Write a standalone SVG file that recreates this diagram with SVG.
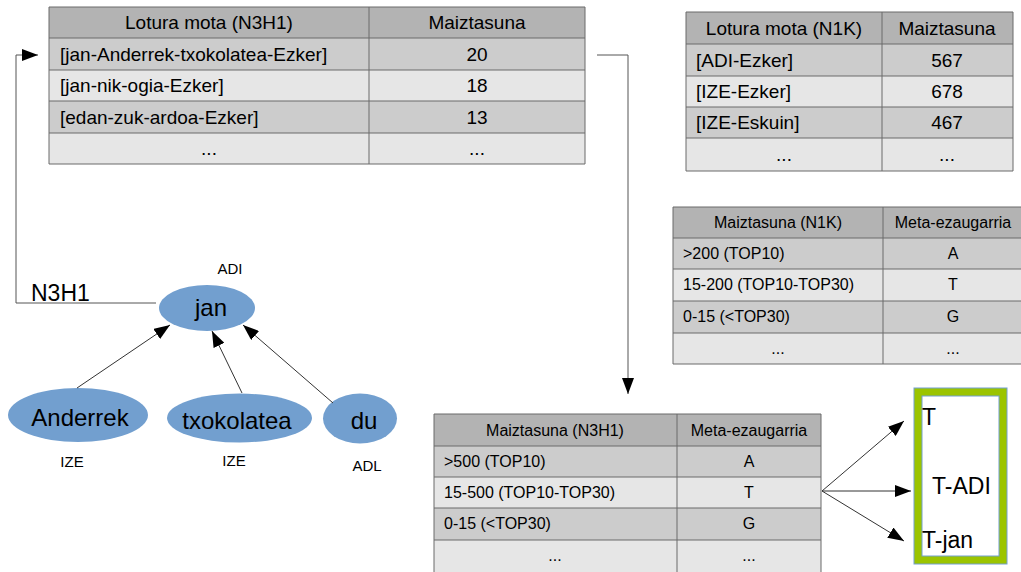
<svg xmlns="http://www.w3.org/2000/svg" width="1021" height="572" viewBox="0 0 1021 572">
  <style>
    text { font-family: "Liberation Sans", Arial, sans-serif; fill: #000; }
    .hd { fill: #b3b3b3; }
    .md { fill: #cccccc; }
    .lt { fill: #e6e6e6; }
    .grid { stroke: #6b6b6b; stroke-width: 1; fill: none; }
    .t19 { font-size: 19px; }
    .t16 { font-size: 16px; }
    .c { text-anchor: middle; }
    .node { fill: #729fcf; }
    .nlab { font-size: 24px; text-anchor: middle; }
    .pos { font-size: 15px; text-anchor: middle; }
    .wire { stroke: #555; stroke-width: 1; fill: none; }
    .edge { stroke: #333; stroke-width: 1; fill: none; }
  </style>
  <defs>
    <marker id="ah" viewBox="0 0 16 12" refX="16" refY="6" markerWidth="16" markerHeight="12" markerUnits="userSpaceOnUse" orient="auto">
      <path d="M0,0 L16,6 L0,12 Z" fill="#000"/>
    </marker>
  </defs>

  <rect width="1021" height="572" fill="#fff"/>

  <!-- table: link types (N3H1) -->
  <g id="table-n3h1">
    <rect class="hd" x="49" y="7" width="536" height="31"/>
    <rect class="md" x="49" y="38" width="536" height="32"/>
    <rect class="lt" x="49" y="70" width="536" height="31"/>
    <rect class="md" x="49" y="101" width="536" height="32"/>
    <rect class="lt" x="49" y="133" width="536" height="31"/>
    <path class="grid" d="M49,7 H585 V164 H49 Z M49,38 H585 M49,70 H585 M49,101 H585 M49,133 H585 M369,7 V164"/>
    <text class="t19 c" x="209" y="29">Lotura mota (N3H1)</text>
    <text class="t19 c" x="477" y="29">Maiztasuna</text>
    <text class="t19" x="60" y="61">[jan-Anderrek-txokolatea-Ezker]</text>
    <text class="t19 c" x="477" y="61">20</text>
    <text class="t19" x="60" y="92">[jan-nik-ogia-Ezker]</text>
    <text class="t19 c" x="477" y="92">18</text>
    <text class="t19" x="60" y="124">[edan-zuk-ardoa-Ezker]</text>
    <text class="t19 c" x="477" y="124">13</text>
    <text class="t19 c" x="209" y="155">...</text>
    <text class="t19 c" x="477" y="155">...</text>
  </g>

  <!-- table: link types (N1K) -->
  <g id="table-n1k">
    <rect class="hd" x="686" y="12" width="327" height="32"/>
    <rect class="md" x="686" y="44" width="327" height="32"/>
    <rect class="lt" x="686" y="76" width="327" height="31"/>
    <rect class="md" x="686" y="107" width="327" height="31"/>
    <rect class="lt" x="686" y="138" width="327" height="33"/>
    <path class="grid" d="M686,12 H1013 V171 H686 Z M686,44 H1013 M686,76 H1013 M686,107 H1013 M686,138 H1013 M882,12 V171"/>
    <text class="t19 c" x="784" y="35">Lotura mota (N1K)</text>
    <text class="t19 c" x="947" y="35">Maiztasuna</text>
    <text class="t19" x="696" y="67">[ADI-Ezker]</text>
    <text class="t19 c" x="947" y="67">567</text>
    <text class="t19" x="696" y="98">[IZE-Ezker]</text>
    <text class="t19 c" x="947" y="98">678</text>
    <text class="t19" x="696" y="129">[IZE-Eskuin]</text>
    <text class="t19 c" x="947" y="129">467</text>
    <text class="t19 c" x="784" y="161">...</text>
    <text class="t19 c" x="947" y="161">...</text>
  </g>

  <!-- table: frequency to meta-feature (N1K) -->
  <g id="table-meta-n1k">
    <rect class="hd" x="673" y="207" width="352" height="31"/>
    <rect class="md" x="673" y="238" width="352" height="31"/>
    <rect class="lt" x="673" y="269" width="352" height="32"/>
    <rect class="md" x="673" y="301" width="352" height="32"/>
    <rect class="lt" x="673" y="333" width="352" height="31"/>
    <path class="grid" d="M1025,207 H673 V364 H1025 M673,238 H1025 M673,269 H1025 M673,301 H1025 M673,333 H1025 M883,207 V364"/>
    <text class="t16 c" x="778" y="228">Maiztasuna (N1K)</text>
    <text class="t16 c" x="953" y="228">Meta-ezaugarria</text>
    <text class="t16" x="683" y="259">&gt;200 (TOP10)</text>
    <text class="t16 c" x="953" y="259">A</text>
    <text class="t16" x="683" y="290">15-200 (TOP10-TOP30)</text>
    <text class="t16 c" x="953" y="290">T</text>
    <text class="t16" x="683" y="322">0-15 (&lt;TOP30)</text>
    <text class="t16 c" x="953" y="322">G</text>
    <text class="t16 c" x="778" y="354">...</text>
    <text class="t16 c" x="953" y="354">...</text>
  </g>

  <!-- table: frequency to meta-feature (N3H1) -->
  <g id="table-meta-n3h1">
    <rect class="hd" x="434" y="414" width="387" height="32"/>
    <rect class="md" x="434" y="446" width="387" height="31"/>
    <rect class="lt" x="434" y="477" width="387" height="31"/>
    <rect class="md" x="434" y="508" width="387" height="32"/>
    <rect class="lt" x="434" y="540" width="387" height="34"/>
    <path class="grid" d="M434,574 V414 H821 V574 M434,446 H821 M434,477 H821 M434,508 H821 M434,540 H821 M677,414 V574"/>
    <text class="t16 c" x="555" y="436">Maiztasuna (N3H1)</text>
    <text class="t16 c" x="749" y="436">Meta-ezaugarria</text>
    <text class="t16" x="444" y="467">&gt;500 (TOP10)</text>
    <text class="t16 c" x="749" y="467">A</text>
    <text class="t16" x="444" y="498">15-500 (TOP10-TOP30)</text>
    <text class="t16 c" x="749" y="498">T</text>
    <text class="t16" x="444" y="529">0-15 (&lt;TOP30)</text>
    <text class="t16 c" x="749" y="529">G</text>
    <text class="t16 c" x="555" y="561">...</text>
    <text class="t16 c" x="749" y="561">...</text>
  </g>

  <!-- dependency tree nodes -->
  <g id="node-jan">
    <ellipse class="node" cx="207" cy="308" rx="48" ry="23"/>
    <text class="nlab" x="211" y="316">jan</text>
    <text class="pos" x="230" y="274">ADI</text>
  </g>
  <g id="node-anderrek">
    <ellipse class="node" cx="78" cy="415" rx="70" ry="27"/>
    <text class="nlab" x="80" y="426">Anderrek</text>
    <text class="pos" x="72" y="467">IZE</text>
  </g>
  <g id="node-txokolatea">
    <ellipse class="node" cx="239.5" cy="418" rx="72.5" ry="24.5"/>
    <text class="nlab" x="237" y="429">txokolatea</text>
    <text class="pos" x="234" y="466">IZE</text>
  </g>
  <g id="node-du">
    <ellipse class="node" cx="360" cy="418.5" rx="37" ry="25"/>
    <text class="nlab" x="364" y="429">du</text>
    <text class="pos" x="367" y="471">ADL</text>
  </g>

  <!-- resulting feature set -->
  <g id="feature-box">
    <rect x="918" y="392" width="85" height="168" fill="#fff" stroke="#9bc400" stroke-width="8"/>
    <rect x="914" y="388" width="93" height="176" fill="none" stroke="#729fcf" stroke-width="1"/>
    <rect x="922" y="396" width="77" height="160" fill="none" stroke="#729fcf" stroke-width="1"/>
    <text x="922" y="425" font-size="23">T</text>
    <text x="932" y="494" font-size="23">T-ADI</text>
    <text x="922" y="548" font-size="23">T-jan</text>
  </g>

  <!-- connectors -->
  <g id="connectors">
    <polyline class="wire" points="156,303 16,303 16,55 38,55" marker-end="url(#ah)"/>
    <text x="31" y="301" font-size="23">N3H1</text>
    <polyline class="wire" points="597,55 628,55 628,394" marker-end="url(#ah)"/>
    <line class="edge" x1="77" y1="388" x2="170" y2="325" marker-end="url(#ah)"/>
    <line class="edge" x1="242" y1="393" x2="212" y2="331" marker-end="url(#ah)"/>
    <line class="edge" x1="333" y1="403" x2="243" y2="325" marker-end="url(#ah)"/>
    <line class="edge" x1="822" y1="491" x2="904" y2="421" marker-end="url(#ah)"/>
    <line class="edge" x1="822" y1="491" x2="911" y2="491" marker-end="url(#ah)"/>
    <line class="edge" x1="822" y1="491" x2="904" y2="541" marker-end="url(#ah)"/>
  </g>
</svg>
